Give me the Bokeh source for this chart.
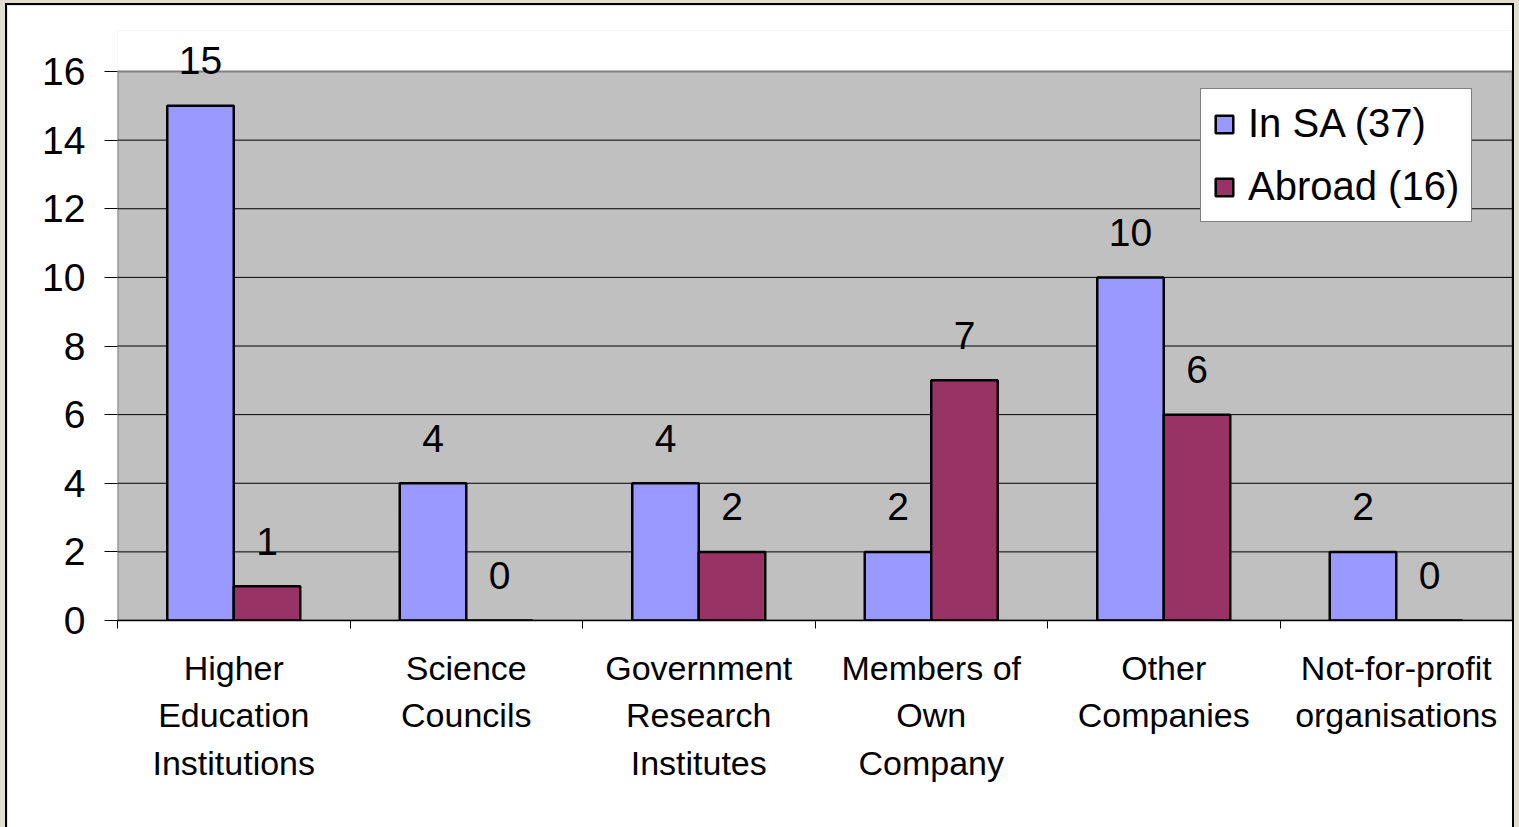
from bokeh.plotting import figure
from bokeh.models import (FixedTicker, Legend, LegendItem, ColumnDataSource,
                          Range1d, Label)
from bokeh.embed import file_html
from bokeh.resources import INLINE

categories = ["Higher\nEducation\nInstitutions", "Science\nCouncils",
              "Government\nResearch\nInstitutes", "Members of\nOwn\nCompany",
              "Other\nCompanies", "Not-for-profit\norganisations"]
in_sa = [15, 4, 4, 2, 10, 2]
abroad = [1, 0, 2, 7, 6, 0]
series_names = ["In SA (37)", "Abroad (16)"]
y_ticks = [0, 2, 4, 6, 8, 10, 12, 14, 16]

FONT = "Liberation Sans"
n = len(categories)
centers = [i + 0.5 for i in range(n)]
off = 0.143
bw = 0.286
y_max = y_ticks[-1]

p = figure(frame_width=1395, frame_height=590, min_border_left=110,
           min_border_right=0, min_border_top=25, min_border_bottom=207,
           output_backend="svg", toolbar_location=None,
           x_range=Range1d(0, n), y_range=Range1d(0, 17.195))
p.styles = {"outline": "2px solid #000000"}
p.background_fill_color = "#ffffff"
p.border_fill_color = "#ffffff"
p.outline_line_color = None

# plot area (grey panel up to the top tick)
p.quad(left=[0], right=[n], bottom=[0], top=[y_max], fill_color="#c0c0c0",
       line_color="#808080", line_width=2, level="image")

x1 = [c - off for c in centers]
x2 = [c + off for c in centers]
src1 = ColumnDataSource(dict(x=x1, top=in_sa))
src2 = ColumnDataSource(dict(x=x2, top=abroad))

p.xgrid.visible = False
p.ygrid.visible = False
p.segment(x0=[0] * (len(y_ticks) - 2), x1=[n] * (len(y_ticks) - 2),
          y0=y_ticks[1:-1], y1=y_ticks[1:-1], line_color="#000000",
          line_width=1)

r1 = p.vbar(x="x", top="top", width=bw, source=src1, fill_color="#9999ff",
            line_color="#000000", line_width=2.5)
r2 = p.vbar(x="x", top="top", width=bw, source=src2, fill_color="#993366",
            line_color="#000000", line_width=2.5)

for xs, vals in ((x1, in_sa), (x2, abroad)):
    for xv, v in zip(xs, vals):
        p.add_layout(Label(x=xv, y=v, text=str(v), y_offset=45,
                           text_align="center", text_baseline="middle",
                           text_font=FONT, text_font_size="39px",
                           text_color="#000000"))

# axes
p.yaxis.ticker = FixedTicker(ticks=y_ticks)
p.yaxis.major_label_text_font = FONT
p.yaxis.major_label_text_font_size = "39px"
p.yaxis.major_label_text_color = "#000000"
p.yaxis.major_tick_out = 13
p.yaxis.major_tick_in = 0
p.yaxis.major_tick_line_color = "#000000"
p.yaxis.minor_tick_line_color = None
p.yaxis.major_label_standoff = 19
p.yaxis.axis_line_color = None

p.xaxis.ticker = FixedTicker(ticks=centers, minor_ticks=list(range(n + 1)))
p.xaxis.major_label_overrides = {c: lab for c, lab in zip(centers, categories)}
p.xaxis.major_label_text_font = FONT
p.xaxis.major_label_text_font_size = "34px"
p.xaxis.major_label_text_color = "#000000"
p.xaxis.major_label_text_line_height = 1.26
p.xaxis.major_tick_line_color = None
p.xaxis.major_tick_out = 0
p.xaxis.major_tick_in = 0
p.xaxis.minor_tick_out = 8
p.xaxis.minor_tick_in = 0
p.xaxis.minor_tick_line_color = "#000000"
p.xaxis.major_label_standoff = 20
p.xaxis.axis_line_color = "#000000"
p.xaxis.axis_line_width = 1.5

legend = Legend(items=[LegendItem(label=series_names[0], renderers=[r1]),
                       LegendItem(label=series_names[1], renderers=[r2])],
                location=(1083, 398))
legend.label_text_font = FONT
legend.label_text_font_size = "40px"
legend.label_text_color = "#000000"
legend.glyph_width = 22
legend.glyph_height = 22
legend.label_standoff = 13
legend.padding = 12
legend.spacing = 18
legend.margin = 0
legend.border_line_color = "#000000"
legend.border_line_width = 1.5
legend.background_fill_color = "#ffffff"
legend.background_fill_alpha = 1
p.add_layout(legend)

html = file_html(p, INLINE)
html = html.replace("</head>",
                    "<style>html,body{background:#e1dece !important;"
                    "margin:0 !important;padding:0 !important;}"
                    "body{padding:5px 0 0 7px !important;}</style></head>", 1)
open("out.html", "w").write(html)
